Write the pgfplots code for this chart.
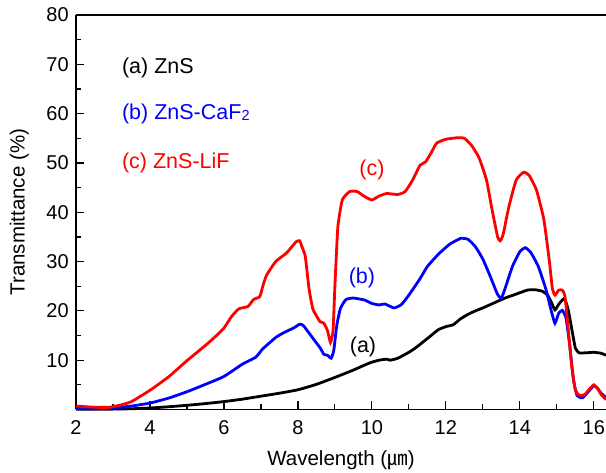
\documentclass[border=0pt]{standalone}
\usepackage{pgfplots}
\pgfplotsset{compat=1.18}
\usepackage{fontspec}
\setmainfont{Liberation Sans}
\newfontfamily\cjk{Noto Sans CJK SC}
\definecolor{pr}{RGB}{255,0,0}
\definecolor{pb}{RGB}{0,0,255}
\begin{document}
\fontsize{21.5}{25}\selectfont
\begin{tikzpicture}
\begin{axis}[
  name=ax,
  scale only axis,
  width=530pt, height=394.5pt,
  xmin=2, xmax=16.33, ymin=0, ymax=80,
  axis lines*=left,
  axis line style={-, line width=1.5pt},
  clip=false,
  tick align=inside,
  xtick={2,4,...,16},
  minor xtick={3,5,...,15},
  ytick={10,20,...,80},
  minor ytick={5,15,...,75},
  major tick length=8pt, minor tick length=5pt,
  every tick/.style={black, line width=1.2pt},
  tick label style={font=\fontsize{20}{24}\selectfont},
  xticklabel style={yshift=-4pt},
  /pgf/number format/assume math mode=true,
  xlabel={Wavelength ({\cjk ㎛})},
  ylabel={Transmittance (\%)},
  label style={font=\fontsize{20.5}{24}\selectfont},
  xlabel style={yshift=-1pt},
  ylabel style={yshift=3pt},
]
\draw[line width=1.5pt] (rel axis cs:0,1) -- (rel axis cs:1,1);

\addplot[black, line width=2.8pt, smooth, tension=0.3] coordinates {
(2,0.05)(2.5,0.05)(3,0.08)(3.5,0.15)(4,0.3)(4.5,0.55)(5,0.85)(5.5,1.2)(6,1.6)(6.5,2.1)(7,2.7)(7.5,3.3)(8,4.0)(8.5,5.1)(9,6.5)(9.5,8.0)(9.8,9.0)(10,9.6)(10.2,10.0)(10.4,10.2)(10.5,10.0)(10.7,10.4)(11,11.6)(11.2,12.6)(11.4,13.8)(11.6,15.0)(11.8,16.2)(12,16.8)(12.2,17.2)(12.4,18.4)(12.6,19.3)(12.8,20.0)(13,20.6)(13.3,21.6)(13.6,22.6)(13.9,23.4)(14.2,24.2)(14.4,24.3)(14.6,24.0)(14.75,23.2)(14.85,21.8)(14.95,20.2)(15.05,21.3)(15.2,22.5)(15.3,20.5)(15.4,16.5)(15.5,12.5)(15.6,11.5)(15.8,11.5)(16,11.6)(16.2,11.4)(16.33,11.0)
};

\addplot[pb, line width=2.8pt, smooth, tension=0.3] coordinates {
(2,0.2)(2.5,0.15)(3,0.3)(3.5,0.7)(4,1.3)(4.5,2.3)(5,3.6)(5.5,5.1)(6,6.7)(6.5,9.2)(6.86,10.6)(7.05,12.3)(7.4,14.6)(7.6,15.5)(7.9,16.6)(8.05,17.3)(8.15,17.0)(8.4,14.5)(8.6,12.5)(8.7,11.2)(8.8,11.0)(8.9,10.4)(8.97,12)(9.05,17)(9.15,20.5)(9.3,22.3)(9.5,22.6)(9.8,22.2)(10.0,21.5)(10.2,21.2)(10.35,21.4)(10.6,20.6)(10.8,21.3)(11.0,23.2)(11.3,26.5)(11.5,29)(11.8,31.5)(12.1,33.5)(12.4,34.7)(12.6,34.5)(12.8,33.0)(13.0,30.5)(13.2,27)(13.4,23.3)(13.5,22.6)(13.6,24.5)(13.8,29)(14.0,32)(14.15,32.8)(14.3,31.8)(14.5,29)(14.7,24.5)(14.85,20)(14.95,17.5)(15.05,19.5)(15.15,20.1)(15.25,18.5)(15.35,13)(15.45,6)(15.55,2.8)(15.7,2.4)(15.85,3.6)(16.0,4.8)(16.1,4.3)(16.2,3.3)(16.33,2.4)
};

\addplot[pr, line width=2.8pt, smooth, tension=0.3] coordinates {
(2,0.7)(2.5,0.45)(2.9,0.45)(3.2,0.9)(3.5,1.6)(4,3.9)(4.5,6.6)(5,9.9)(5.5,13.0)(5.8,15)(6,16.5)(6.2,18.8)(6.4,20.4)(6.65,20.9)(6.8,22.3)(6.97,22.9)(7.05,25)(7.15,27.2)(7.4,30)(7.7,31.8)(7.95,34)(8.05,34.2)(8.1,33.2)(8.2,31)(8.3,24.5)(8.4,20.5)(8.5,19)(8.6,17.8)(8.7,17.5)(8.8,16)(8.88,13.6)(8.95,16)(9.0,25)(9.08,37)(9.2,42.5)(9.4,44.2)(9.6,44.2)(9.8,43.2)(10.0,42.5)(10.2,43.3)(10.4,43.8)(10.7,43.6)(10.9,44.2)(11.1,46.5)(11.3,49.5)(11.45,50.2)(11.6,52)(11.75,54)(12.0,54.8)(12.3,55.1)(12.5,55)(12.7,53.5)(12.9,51)(13.1,46.5)(13.25,40.5)(13.4,35)(13.47,34.2)(13.55,35.5)(13.7,41)(13.9,46.5)(14.1,48.1)(14.25,47.5)(14.45,44.5)(14.65,38.5)(14.8,30)(14.88,24.5)(14.95,23.2)(15.05,24.2)(15.15,24.2)(15.22,23)(15.3,17)(15.4,9)(15.5,4)(15.6,2.9)(15.75,3.0)(15.9,4.3)(16.0,5.0)(16.1,4.3)(16.2,3.0)(16.33,2.0)
};

\node[anchor=west, inner sep=0pt] at (axis cs:3.24,69.3) {(a) ZnS};
\node[anchor=west, inner sep=0pt, text=pb] at (axis cs:3.24,60) {(b) ZnS-CaF\raisebox{-1.5pt}{\fontsize{14.5}{16}\selectfont 2}};
\node[anchor=west, inner sep=0pt, text=pr] at (axis cs:3.24,50) {(c) ZnS-LiF};
\node[text=pr] at (axis cs:10.0,48.6) {(c)};
\node[text=pb] at (axis cs:9.73,26.7) {(b)};
\node at (axis cs:9.76,12.7) {(a)};
\end{axis}
\pgfresetboundingbox
\path[use as bounding box] ([xshift=-76pt,yshift=-63.5pt]ax.south west) rectangle ([yshift=15pt]ax.north east);
\end{tikzpicture}
\end{document}
